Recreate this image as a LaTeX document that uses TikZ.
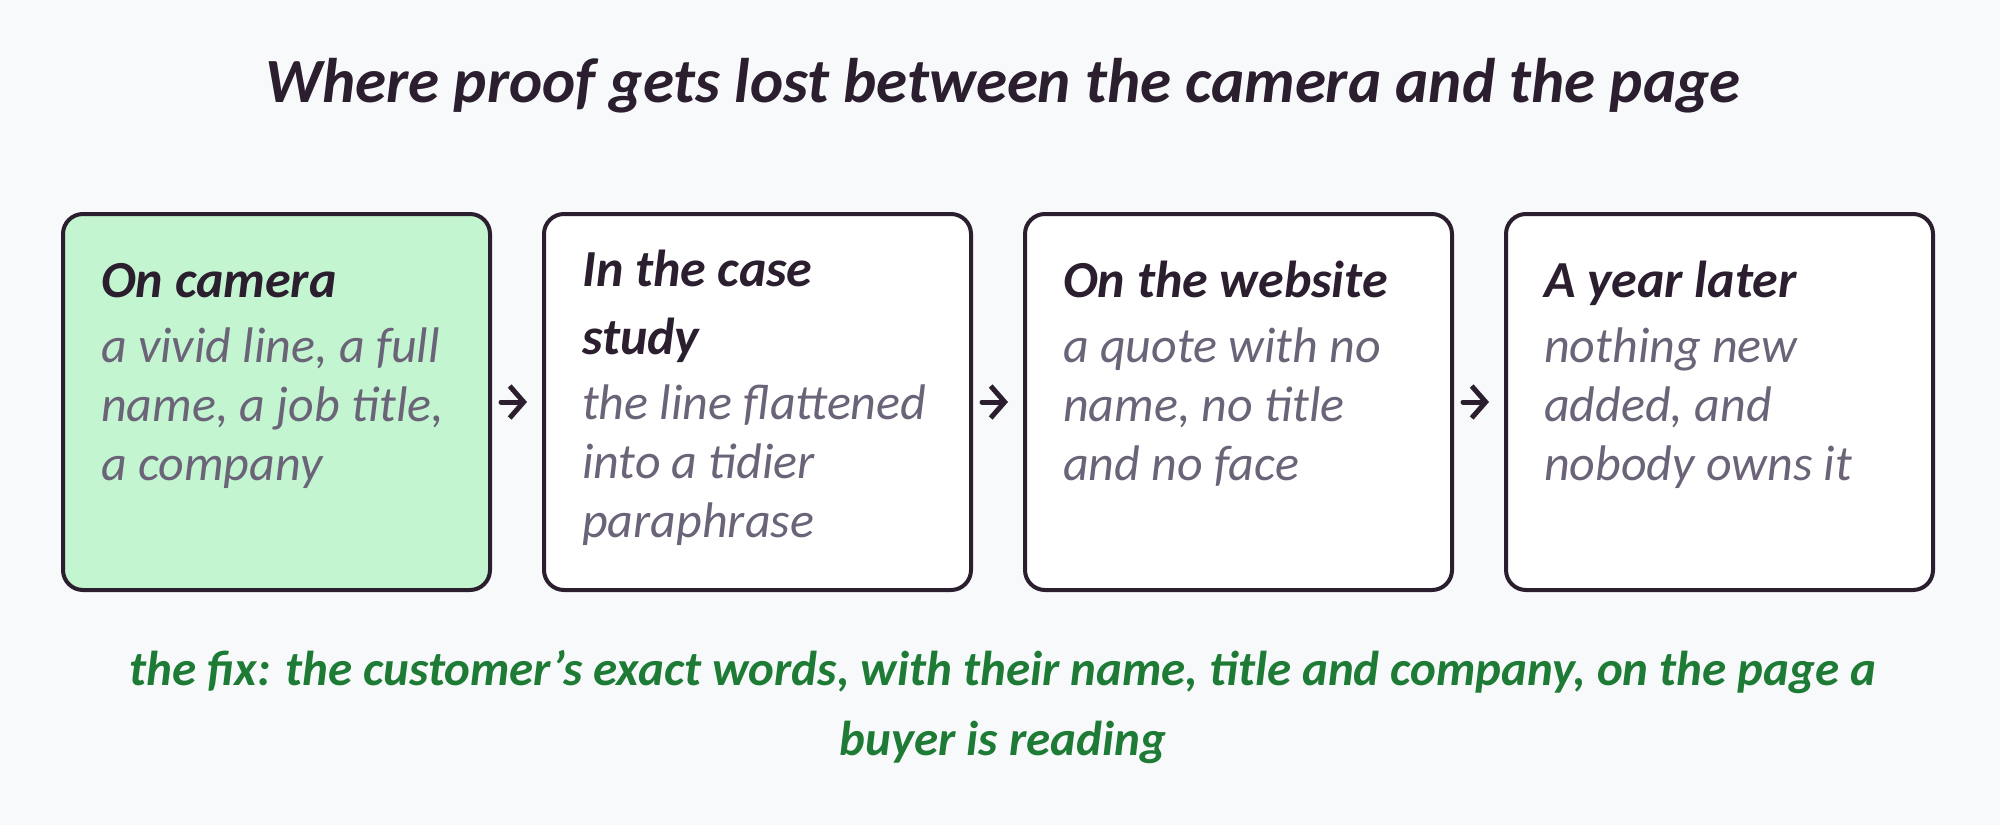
\documentclass[tikz,border=0pt]{standalone}
\usepackage{fontspec}
\setmainfont{Carlito}
\usetikzlibrary{positioning,arrows.meta}
\definecolor{bgcol}{HTML}{F8F9FB}
\definecolor{ink}{HTML}{2B1E2E}
\definecolor{camgreen}{HTML}{C3F5D0}
\definecolor{bodygray}{HTML}{6B6478}
\definecolor{fixgreen}{HTML}{1E7B35}
\tikzset{
  stage/.style={draw=ink, line width=4pt, rounded corners=20pt, minimum width=427pt,
    minimum height=376pt, anchor=north west, inner sep=0pt},
  head/.style={anchor=north west, inner sep=0pt, align=left, text=ink,
    font=\fontsize{52}{67.6}\selectfont\bfseries\itshape,
    execute at begin node=\strut, execute at end node=\strut},
  note/.style={inner sep=0pt, align=left, text=bodygray,
    font=\fontsize{50}{58.7}\selectfont\itshape,
    execute at begin node=\strut, execute at end node=\strut},
  flow/.style={-{Straight Barb[length=14pt,width=32pt,line width=5pt]}, line width=5pt,
    draw=ink, line cap=round, shorten <=9pt, shorten >=15pt}
}

\begin{document}
\begin{tikzpicture}[x=1pt, y=-1pt]
  \fill[bgcol] (0, 0) rectangle (2000, 825);
  \node[anchor=base, text=ink, font=\fontsize{63}{72}\selectfont\bfseries\itshape]
    (title) at (1003, 102) {Where proof gets lost between the camera and the page};
  % the four stages
  \foreach \i/\col/\hd/\bd in {
    1/camgreen/{On camera}/{a vivid line, a full\\name, a job title,\\a company},
    2/white/{In the case\\study}/{the line flattened\\into a tidier\\paraphrase},
    3/white/{On the website}/{a quote with no\\name, no title\\and no face},
    4/white/{A year later}/{nothing new\\added, and\\nobody owns it}}{
    \node[stage, fill=\col] (b\i) at ({61+481*(\i-1)}, 212) {};
    \node[head] (h\i) at ([shift={(40, 38)}]b\i.north west) {\hd};
    \node[note, below=10pt of h\i.south west, anchor=north west] (t\i) {\bd};
  }
  \foreach \i/\j in {1/2, 2/3, 3/4}
    \draw[flow] (b\i.east) -- (b\j.west);
  \node[anchor=north, align=center, inner sep=0pt, text=fixgreen,
    font=\fontsize{49}{70}\selectfont\bfseries\itshape,
    execute at begin node=\strut, execute at end node=\strut] (fix) at (1003, 650)
    {the fix: the customer's exact words, with their name, title and company, on the page a\\buyer is reading};
\end{tikzpicture}
\end{document}
